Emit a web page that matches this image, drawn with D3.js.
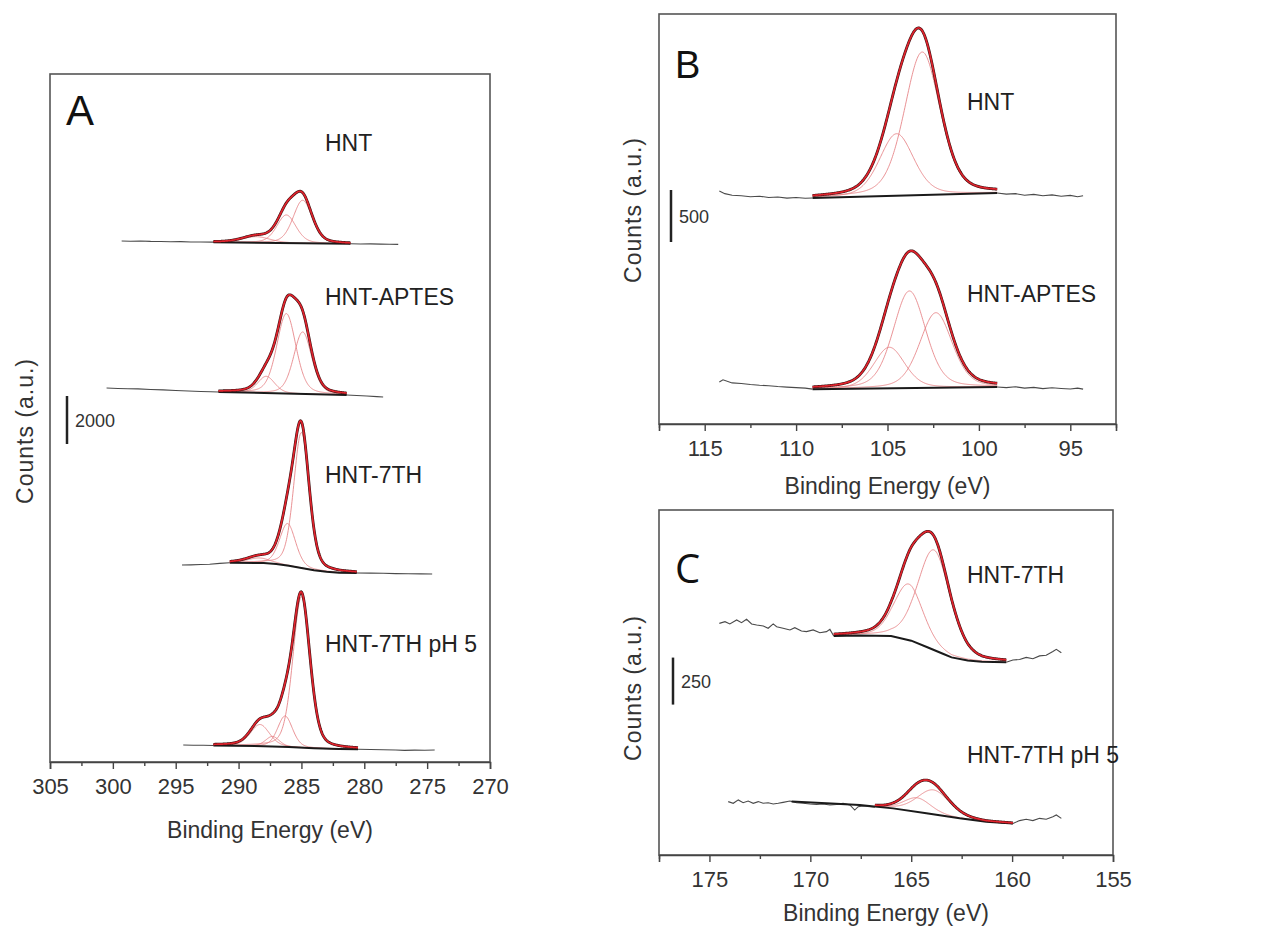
<!DOCTYPE html>
<html><head><meta charset="utf-8">
<script src="https://cdn.jsdelivr.net/npm/d3@7"></script>
<style>html,body{margin:0;padding:0;background:#fff}svg{display:block;font-family:"Liberation Sans",Arial,sans-serif}</style>
</head><body>
<svg id="chart" width="1261" height="938"></svg>
<script>
// ---------------- DATA ----------------
// tick labels
const ticksA = [305, 300, 295, 290, 285, 280, 275, 270];
const minorA = [302.5, 297.5, 292.5, 287.5, 282.5, 277.5, 272.5];
const ticksB = [115, 110, 105, 100, 95];
const minorB = [117.5, 112.5, 107.5, 102.5, 97.5, 92.5];
const ticksC = [175, 170, 165, 160, 155];
const minorC = [177.5, 172.5, 167.5, 162.5, 157.5];

const samplesA = ["HNT", "HNT-APTES", "HNT-7TH", "HNT-7TH pH 5"];
const samplesB = ["HNT", "HNT-APTES"];
const samplesC = ["HNT-7TH", "HNT-7TH pH 5"];
const scaleBarValues = [2000, 500, 250];

// peaks: [centre eV, height counts, FWHM eV]; raw: [eV, counts]; bg: [eV, counts]; fit: [from, to]
// Panel A (C 1s)
const A_HNT_rawL = [[299.3,21710],[298.6,21700],[297.8,21706],[297.0,21692],[296.2,21688],[295.4,21680],[294.6,21684],[293.8,21670],[293.0,21664],[292.0,21660]];
const A_HNT_rawR = [[281.1,21592],[280.3,21585],[279.5,21588],[278.7,21578],[278.0,21575],[277.3,21570]];
const A_HNT_bg = [[292.0,21660],[281.1,21592]];
const A_HNT_fit = [292.0, 281.1];
const A_HNT_peaks = [[284.9,1790,1.8],[286.2,1170,1.8],[288.6,250,2.6]];

const A_APTES_rawL = [[300.5,15583],[299.6,15565],[298.8,15552],[298.0,15545],[297.0,15521],[296.0,15505],[295.0,15480],[294.0,15458],[293.0,15440],[292.2,15425],[291.6,15417]];
const A_APTES_rawR = [[281.4,15292],[280.6,15270],[279.8,15250],[279.0,15225],[278.5,15208]];
const A_APTES_bg = [[291.6,15417],[281.4,15292]];
const A_APTES_fit = [291.6, 281.4];
const A_APTES_peaks = [[286.2,3333,1.8],[284.9,2583,1.7],[287.8,700,1.6]];

const A_7TH_rawL = [[294.5,8208],[293.8,8215],[293.0,8230],[292.3,8240],[291.5,8275],[290.7,8300]];
const A_7TH_rawR = [[280.6,7875],[279.5,7870],[278.5,7862],[277.5,7850],[276.5,7845],[275.5,7838],[274.6,7833]];
const A_7TH_bg = [[290.7,8300],[288.0,8290],[287.0,8250],[286.0,8180],[285.0,8080],[284.0,7990],[283.0,7930],[282.0,7890],[280.6,7875]];
const A_7TH_fit = [290.7, 280.6];
const A_7TH_peaks = [[285.0,5650,1.45],[286.1,1750,1.5],[288.4,210,2.2]];

const A_PH5_rawL = [[294.4,708],[293.6,700],[292.8,695],[292.0,690]];
const A_PH5_rawR = [[280.5,530],[279.5,520],[278.5,512],[277.5,500],[276.8,485],[276.0,495],[275.2,490],[274.4,500]];
const A_PH5_bg = [[292.0,690],[288.0,660],[286.0,620],[284.0,570],[282.0,540],[280.5,530]];
const A_PH5_fit = [292.0, 280.5];
const A_PH5_peaks = [[285.0,6290,1.6],[286.3,1290,1.4],[287.3,420,1.3],[288.3,900,1.8]];

// Panel B (Si 2p)
const B_HNT_rawL = [[114.2,2240],[113.9,2215],[113.5,2200],[113.0,2195],[112.5,2185],[112.0,2190],[111.5,2178],[111.0,2182],[110.5,2172],[110.0,2178],[109.5,2170],[109.1,2173]];
const B_HNT_rawR = [[99.0,2221],[98.5,2210],[98.0,2215],[97.5,2200],[97.0,2208],[96.5,2195],[96.0,2203],[95.5,2190],[95.0,2198],[94.6,2185],[94.3,2195]];
const B_HNT_bg = [[109.1,2173],[99.0,2221]];
const B_HNT_fit = [109.1, 99.0];
const B_HNT_peaks = [[103.1,1375,2.3],[104.5,596,2.2]];

const B_APTES_rawL = [[114.2,404],[114.0,425],[113.5,395],[113.0,390],[112.5,380],[112.0,372],[111.5,368],[111.0,360],[110.5,355],[110.0,350],[109.5,345],[109.1,335]];
const B_APTES_rawR = [[99.0,356],[98.5,350],[98.0,358],[97.5,345],[97.0,352],[96.5,340],[96.0,348],[95.5,342],[95.0,336],[94.6,345],[94.3,335]];
const B_APTES_bg = [[109.1,335],[99.0,356]];
const B_APTES_fit = [109.1, 99.0];
const B_APTES_peaks = [[103.8,933,2.1],[102.35,721,2.1],[104.9,394,2.0]];

// Panel C (S 2p)
const C_7TH_rawL = [[174.51,1232],[174.23,1241],[173.99,1229],[173.65,1250],[173.41,1236],[173.16,1254],[172.91,1229],[172.66,1223],[172.33,1218],[172.09,1206],[171.84,1229],[171.67,1214],[171.35,1206],[171.01,1197],[170.77,1209],[170.44,1191],[170.19,1188],[169.86,1197],[169.53,1182],[169.20,1188],[169.03,1200],[168.84,1165]];
const C_7TH_rawR = [[160.29,1025],[159.96,1037],[159.63,1040],[159.30,1051],[158.97,1044],[158.64,1059],[158.31,1062],[157.98,1082],[157.81,1094],[157.56,1076]];
const C_7TH_bg = [[168.84,1165],[167.55,1167],[166.0,1165],[165.0,1140],[164.2,1105],[163.4,1069],[163.0,1051],[162.2,1035],[161.5,1028],[160.29,1025]];
const C_7TH_fit = [168.84, 160.29];
const C_7TH_peaks = [[163.87,532,1.9],[165.13,298,1.7]];

const C_PH5_rawL = [[174.07,284],[173.82,275],[173.57,293],[173.33,278],[173.08,287],[172.83,275],[172.58,284],[172.34,275],[172.09,278],[171.84,271],[171.59,275],[171.35,280],[171.01,287],[170.68,278],[170.36,275],[170.02,271],[169.69,269],[169.37,271],[169.03,266],[168.70,269],[168.38,275],[168.04,266],[167.80,239],[167.63,257],[167.39,261],[167.05,257],[166.80,254]];
const C_PH5_rawR = [[159.96,168],[159.63,183],[159.30,190],[158.97,183],[158.64,195],[158.31,190],[157.98,204],[157.81,213],[157.56,195]];
const C_PH5_bg = [[170.93,284],[169.2,275],[167.55,266],[165.9,248],[164.25,222],[162.6,195],[161.28,177],[159.96,168]];
const C_PH5_fit = [166.8, 159.96];
const C_PH5_peaks = [[163.9,130,1.9],[164.7,75,1.6]];

const lorentzFraction = 0.3; // GL(30) line shape of the fitted components

// ---------------- DRAWING ----------------
const svg = d3.select("#chart");
const FONT = '"Liberation Sans", Arial, sans-serif';

function interp(pts, e) {
  for (let i = 0; i < pts.length - 1; i++) {
    const a = pts[i], b = pts[i + 1];
    if (e <= a[0] && e >= b[0]) {
      const t = (a[0] - e) / (a[0] - b[0]);
      return a[1] + t * (b[1] - a[1]);
    }
  }
  return e > pts[0][0] ? pts[0][1] : pts[pts.length - 1][1];
}
function gl(e, p) {
  const d = (e - p[0]) / p[2];
  return p[1] * ((1 - lorentzFraction) * Math.exp(-4 * Math.LN2 * d * d) + lorentzFraction / (1 + 4 * d * d));
}

function panel(cfg) {
  const g = svg.append("g");
  const x = d3.scaleLinear().domain(cfg.dom).range([cfg.x0, cfg.x1]);
  const y = d3.scaleLinear().domain([0, cfg.ymax]).range([cfg.y1, cfg.y0]);
  const clipId = "clip" + cfg.letter;
  svg.append("clipPath").attr("id", clipId).append("rect")
    .attr("x", cfg.x0).attr("y", cfg.y0).attr("width", cfg.x1 - cfg.x0).attr("height", cfg.y1 - cfg.y0);
  const plot = g.append("g").attr("clip-path", `url(#${clipId})`);
  const line = d3.line().x(d => x(d[0])).y(d => y(d[1]));

  cfg.spectra.forEach(s => {
    [s.rawL, s.rawR].forEach(r => plot.append("path").attr("d", line(r))
      .attr("fill", "none").attr("stroke", "#4a4a4a").attr("stroke-width", 1.1));
    const es = d3.range(s.fit[0], s.fit[1] - 0.001, -(s.fit[0] - s.fit[1]) / 300);
    es.push(s.fit[1]);
    s.peaks.forEach(p => {
      const pts = es.map(e => [e, interp(s.bg, e) + gl(e, p)]);
      plot.append("path").attr("d", line(pts)).attr("fill", "none")
        .attr("stroke", "#e57f82").attr("stroke-width", 1).attr("opacity", 0.85);
    });
    plot.append("path").attr("d", line(s.bg)).attr("fill", "none")
      .attr("stroke", "#1a1a1a").attr("stroke-width", 2);
    const env = es.map(e => [e, interp(s.bg, e) + d3.sum(s.peaks, p => gl(e, p))]);
    plot.append("path").attr("d", line(env)).attr("fill", "none")
      .attr("stroke", "#3a1010").attr("stroke-width", 2.8);
    plot.append("path").attr("d", line(env)).attr("fill", "none")
      .attr("stroke", "#e0232d").attr("stroke-width", 1.7);
  });

  g.append("rect").attr("x", cfg.x0).attr("y", cfg.y0).attr("width", cfg.x1 - cfg.x0).attr("height", cfg.y1 - cfg.y0)
    .attr("fill", "none").attr("stroke", "#555").attr("stroke-width", 1.6);

  const ax = g.append("g").attr("transform", `translate(0,${cfg.y1})`)
    .call(d3.axisBottom(x).tickValues(cfg.ticks).tickSize(7).tickPadding(9).tickFormat(d3.format("d")));
  ax.select(".domain").attr("stroke", "#444").attr("stroke-width", 1.6);
  ax.selectAll(".tick line").attr("stroke", "#444").attr("stroke-width", 1.4);
  ax.selectAll("text").attr("font-family", FONT).attr("font-size", 22).attr("fill", "#333");
  const axm = g.append("g").attr("transform", `translate(0,${cfg.y1})`)
    .call(d3.axisBottom(x).tickValues(cfg.minor).tickSize(4).tickFormat(""));
  axm.select(".domain").remove();
  axm.selectAll(".tick line").attr("stroke", "#444").attr("stroke-width", 1.4);

  g.append("text").attr("x", (cfg.x0 + cfg.x1) / 2).attr("y", cfg.xTitleY).attr("text-anchor", "middle")
    .attr("font-family", FONT).attr("font-size", 23).attr("fill", "#333").text("Binding Energy (eV)");
  g.append("text").attr("transform", `translate(${cfg.yTitleX},${cfg.yTitleCY}) rotate(-90)`)
    .attr("text-anchor", "middle").attr("font-family", FONT).attr("font-size", 23)
    .attr("letter-spacing", 1).attr("fill", "#333").text("Counts (a.u.)");

  g.append("text").attr("x", cfg.letterX).attr("y", cfg.letterY).attr("font-family", cfg.letterFont || FONT)
    .attr("font-size", cfg.letterSize).attr("fill", "#111").text(cfg.letter);

  cfg.labels.forEach((t, i) => g.append("text").attr("x", cfg.labelX).attr("y", cfg.labelY[i])
    .attr("font-family", FONT).attr("font-size", 23).attr("fill", "#222").text(t));

  const sb = cfg.scaleBar;
  const yTop = y(sb.base + sb.value), yBot = y(sb.base);
  g.append("line").attr("x1", sb.x).attr("x2", sb.x).attr("y1", yTop).attr("y2", yBot)
    .attr("stroke", "#222").attr("stroke-width", 2.5);
  g.append("text").attr("x", sb.x + 8).attr("y", (yTop + yBot) / 2 + 7).attr("font-family", FONT)
    .attr("font-size", 18).attr("fill", "#333").text(sb.value);
}

panel({
  letter: "A", x0: 50, x1: 490, y0: 74, y1: 762, dom: [305, 270], ymax: 28667,
  ticks: ticksA, minor: minorA, xTitleY: 838, yTitleX: 33, yTitleCY: 431,
  letterX: 66, letterY: 125, letterSize: 42,
  labels: samplesA, labelX: 325, labelY: [151, 305, 483, 652],
  scaleBar: { x: 67, base: 13250, value: scaleBarValues[0] },
  spectra: [
    { rawL: A_HNT_rawL, rawR: A_HNT_rawR, bg: A_HNT_bg, fit: A_HNT_fit, peaks: A_HNT_peaks },
    { rawL: A_APTES_rawL, rawR: A_APTES_rawR, bg: A_APTES_bg, fit: A_APTES_fit, peaks: A_APTES_peaks },
    { rawL: A_7TH_rawL, rawR: A_7TH_rawR, bg: A_7TH_bg, fit: A_7TH_fit, peaks: A_7TH_peaks },
    { rawL: A_PH5_rawL, rawR: A_PH5_rawR, bg: A_PH5_bg, fit: A_PH5_fit, peaks: A_PH5_peaks }
  ]
});

panel({
  letter: "B", x0: 659, x1: 1116, y0: 14, y1: 424, dom: [117.5, 92.5], ymax: 3942,
  ticks: ticksB, minor: minorB, xTitleY: 494, yTitleX: 641, yTitleCY: 210,
  letterX: 675, letterY: 78, letterSize: 38,
  labels: samplesB, labelX: 967, labelY: [110, 302],
  scaleBar: { x: 671, base: 1750, value: scaleBarValues[1] },
  spectra: [
    { rawL: B_HNT_rawL, rawR: B_HNT_rawR, bg: B_HNT_bg, fit: B_HNT_fit, peaks: B_HNT_peaks },
    { rawL: B_APTES_rawL, rawR: B_APTES_rawR, bg: B_APTES_bg, fit: B_APTES_fit, peaks: B_APTES_peaks }
  ]
});

panel({
  letter: "C", x0: 659, x1: 1113, y0: 510, y1: 855, dom: [177.5, 155], ymax: 1835,
  ticks: ticksC, minor: minorC, xTitleY: 921, yTitleX: 641, yTitleCY: 688,
  letterX: 675, letterY: 583, letterSize: 40, letterFont: '"Open Sans", "DejaVu Sans", sans-serif',
  labels: samplesC, labelX: 967, labelY: [583, 763],
  scaleBar: { x: 673, base: 800, value: scaleBarValues[2] },
  spectra: [
    { rawL: C_7TH_rawL, rawR: C_7TH_rawR, bg: C_7TH_bg, fit: C_7TH_fit, peaks: C_7TH_peaks },
    { rawL: C_PH5_rawL, rawR: C_PH5_rawR, bg: C_PH5_bg, fit: C_PH5_fit, peaks: C_PH5_peaks }
  ]
});
</script>
</body></html>
